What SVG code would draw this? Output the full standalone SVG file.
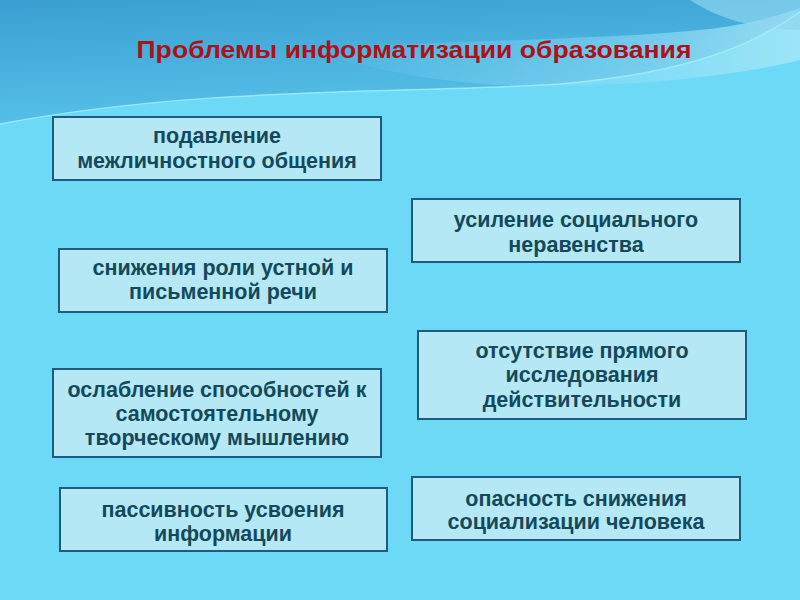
<svg xmlns="http://www.w3.org/2000/svg" width="800" height="600" viewBox="0 0 800 600">
<defs>
<linearGradient id="top" x1="0" y1="0" x2="0.3" y2="1">
<stop offset="0" stop-color="#3a9fd0"/>
<stop offset="1" stop-color="#56c2ea"/>
</linearGradient>
<linearGradient id="sw" x1="0" y1="0" x2="1" y2="0">
<stop offset="0" stop-color="#8fdcf4" stop-opacity="0"/>
<stop offset="0.6" stop-color="#8fdcf4" stop-opacity="0.5"/>
<stop offset="1" stop-color="#a8e8f8" stop-opacity="0.8"/>
</linearGradient>
<style>
.box{fill:#b4e8f4;stroke:#1d5c80;stroke-width:2}
.t{font-family:"Liberation Sans",Arial,sans-serif;font-weight:bold;font-size:21.5px;fill:#13495a;text-anchor:middle}
.title{font-family:"Liberation Sans",Arial,sans-serif;font-weight:bold;font-size:24px;fill:#ad111a;text-anchor:middle}
</style>
</defs>
<rect width="800" height="600" fill="#6cd9f7"/>
<path d="M0 0 L800 0 L800 12 C760 40 700 72 560 84 C400 94 200 86 0 124 Z" fill="url(#top)"/>
<path d="M300 50 C450 40 600 40 700 30 C750 25 780 15 800 8 L800 60 C740 75 650 85 560 86 C450 88 380 70 300 50 Z" fill="url(#sw)"/>
<path d="M690 0 C720 20 760 30 800 30 L800 0 Z" fill="#8ed6f0" opacity="0.7"/>
<path d="M0 124 C200 86 400 94 560 84 C700 72 760 40 800 12" fill="none" stroke="#a6eef6" stroke-width="1.5" opacity="0.8"/>
<text class="title" x="414" y="58" textLength="555" lengthAdjust="spacingAndGlyphs">Проблемы информатизации образования</text>
<g id="connectors"/>
<g id="n1">
<rect class="box" x="53" y="117" width="328" height="63"/>
<text class="t" x="217" y="143">подавление</text>
<text class="t" x="217" y="168">межличностного общения</text>
</g>
<g id="n2">
<rect class="box" x="412" y="199" width="328" height="63"/>
<text class="t" x="576" y="227">усиление социального</text>
<text class="t" x="576" y="252">неравенства</text>
</g>
<g id="n3">
<rect class="box" x="59" y="249" width="328" height="63"/>
<text class="t" x="223" y="275">снижения роли устной и</text>
<text class="t" x="223" y="299">письменной речи</text>
</g>
<g id="n4">
<rect class="box" x="418" y="331" width="328" height="88"/>
<text class="t" x="582" y="358">отсутствие прямого</text>
<text class="t" x="582" y="382">исследования</text>
<text class="t" x="582" y="407">действительности</text>
</g>
<g id="n5">
<rect class="box" x="53" y="369" width="328" height="88"/>
<text class="t" x="217" y="397">ослабление способностей к</text>
<text class="t" x="217" y="421">самостоятельному</text>
<text class="t" x="217" y="445">творческому мышлению</text>
</g>
<g id="n6">
<rect class="box" x="60" y="488" width="327" height="63"/>
<text class="t" x="223" y="517">пассивность усвоения</text>
<text class="t" x="223" y="541">информации</text>
</g>
<g id="n7">
<rect class="box" x="412" y="477" width="328" height="63"/>
<text class="t" x="576" y="506">опасность снижения</text>
<text class="t" x="576" y="529">социализации человека</text>
</g>
</svg>
